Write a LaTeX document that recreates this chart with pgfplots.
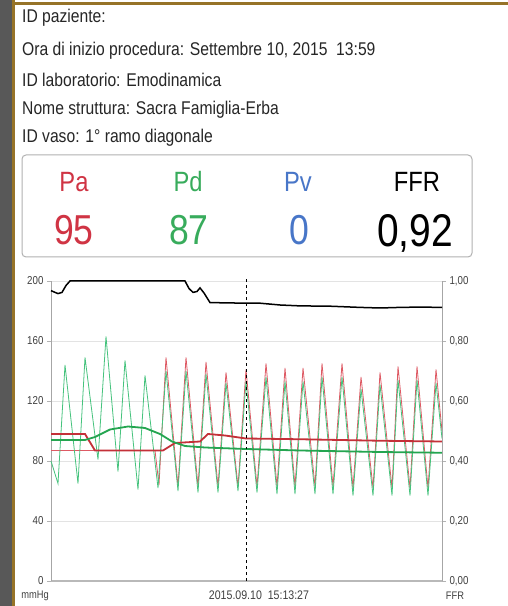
\documentclass[border=0pt]{standalone}
\usepackage{pgfplots}
\pgfplotsset{compat=1.18}
\usepackage{fontspec}
\setmainfont{Liberation Sans}
\newfontfamily\cf[FakeStretch=0.85]{Liberation Sans}
\definecolor{pa}{RGB}{208,52,68}
\definecolor{pd}{RGB}{56,172,92}
\definecolor{pv}{RGB}{72,118,200}
\definecolor{gold}{RGB}{150,115,40}
\definecolor{strip}{RGB}{88,88,88}
\definecolor{paw}{RGB}{222,90,100}
\definecolor{pdw}{RGB}{70,195,125}
\definecolor{pam}{RGB}{196,48,56}
\definecolor{pdm}{RGB}{36,165,80}
\begin{document}
\begin{tikzpicture}[x=1bp,y=1bp]
\fill[white] (0,0) rectangle (508,606);
\fill[strip] (0,0) rectangle (12,606);
\fill[gold] (12,0) rectangle (14.5,606);
\fill[gold] (12,601) rectangle (508,603.5);
% info lines
\begin{scope}[every node/.style={anchor=base west,inner sep=0pt,font=\cf\fontsize{18.5}{20}\selectfont,text=black!85}]
\node at (22,583) {ID paziente:};
\node at (22,550) {Ora di inizio procedura: Settembre 10, 2015\ \ 13:59};
\node at (22,519) {ID laboratorio: Emodinamica};
\node at (22,491) {Nome struttura: Sacra Famiglia-Erba};
\node at (22,463) {ID vaso: 1° ramo diagonale};
\end{scope}
% value box
\draw[gray!60,line width=1bp,rounded corners=4bp] (22,349) rectangle (472,451);
\begin{scope}[every node/.style={anchor=base,inner sep=0pt}]
\node[font=\cf\fontsize{28}{30}\selectfont,text=pa] at (74,414) {Pa};
\node[font=\cf\fontsize{28}{30}\selectfont,text=pd] at (188,414) {Pd};
\node[font=\cf\fontsize{28}{30}\selectfont,text=pv] at (298,414) {Pv};
\node[font=\cf\fontsize{28}{30}\selectfont,text=black] at (417,414) {FFR};
\node[font=\cf\fontsize{42}{44}\selectfont,text=pa] at (74,361) {95};
\node[font=\cf\fontsize{42}{44}\selectfont,text=pd] at (189,361) {87};
\node[font=\cf\fontsize{42}{44}\selectfont,text=pv] at (299,361) {0};
\node[font=\cf\fontsize{46}{48}\selectfont,text=black] at (415,359) {0,92};
\end{scope}
% pressure axis
\begin{axis}[at={(51bp,25bp)},anchor=south west,scale only axis,
  width=391bp,height=300bp,xmin=51,xmax=442,ymin=0,ymax=200,
  axis x line*=bottom,axis y line*=left,
  axis line style={gray!70,line width=0.8bp},
  x axis line style={gray!55,line width=1.6bp},
  xtick=\empty,ytick={0,40,...,200},
  ymajorgrids,grid style={gray!22,line width=0.8bp},
  tick align=outside,major tick length=4bp,tick style={gray!60,line width=0.8bp},
  /pgf/number format/assume math mode=true,
  yticklabel style={font=\cf\fontsize{11.5}{12}\selectfont,text=black!75},
  clip=false]
\addplot[paw,line width=0.8bp] coordinates {
(51,87)(155,87)(159,64)(166,149)(178,63)(186,149)(198,63)(206,146)(218,63)(226,139)
(238,63)(246,141)(257,63)(266,145)(277,63)(285,142)(295,63)(303,142)(315,63)(322,145)
(333,63)(342,145)(353,62)(361,136)(373,62)(380,139)(392,62)(398,143)(410,62)(417,143)
(428,62)(436,141)(442,100)};
\addplot[pdw,line width=0.8bp] coordinates {
(51,80)(58,65)(65,144)(78,65)(85,149)(98,81)(106,163)(118,73)(125,147)(138,61)(145,137)
(158,62)(166,140)(178,60)(186,140)(198,59)(206,138)(218,59)(226,132)(238,60)(246,133)
(257,59)(266,136)(277,58)(285,133)(295,58)(303,133)(315,58)(322,136)(333,58)(342,136)
(353,57)(361,128)(373,57)(380,131)(392,57)(398,134)(410,57)(417,134)(428,57)(436,132)(442,95)};
\addplot[pam,line width=1.8bp] coordinates {
(51,98)(85,98)(95,87)(163,87)(175,92)(200,93)(208,98)(225,97)(246,95)(300,94.5)(380,93.5)(442,93)};
\addplot[pdm,line width=1.8bp] coordinates {
(51,94)(85,94)(95,96)(110,101)(128,103)(145,102)(160,98)(172,93)(185,90)(205,89)(246,88)(300,87)(380,86)(442,85.5)};
\addplot[black,dashed,line width=1bp] coordinates {(246,0)(246,203)};
\end{axis}
% FFR axis
\begin{axis}[at={(51bp,25bp)},anchor=south west,scale only axis,
  width=391bp,height=300bp,xmin=51,xmax=442,ymin=0,ymax=1,
  axis x line=none,axis y line*=right,
  axis line style={gray!70,line width=0.8bp},
  ytick={0,0.2,0.4,0.6,0.8,1},
  yticklabels={{0,00},{0,20},{0,40},{0,60},{0,80},{1,00}},
  tick align=outside,major tick length=4bp,tick style={gray!60,line width=0.8bp},
  /pgf/number format/assume math mode=true,
  yticklabel style={font=\cf\fontsize{11.5}{12}\selectfont,text=black!75},
  clip=false]
\addplot[black,line width=1.5bp] coordinates {
(51,0.968)(55,0.962)(58,0.958)(62,0.962)(66,0.985)(70,1.0)(185,1.0)(189,0.975)(193,0.962)
(197,0.965)(200,0.977)(204,0.96)(210,0.928)(246,0.926)(260,0.926)(280,0.92)(300,0.917)
(330,0.916)(360,0.912)(380,0.91)(400,0.912)(420,0.913)(442,0.912)};
\end{axis}
\node[font=\cf\fontsize{11}{12}\selectfont,text=black!75] at (35,10) {mmHg};
\node[font=\cf\fontsize{11}{12}\selectfont,text=black!75] at (455,10) {FFR};
\node[font=\cf\fontsize{12.5}{13}\selectfont,text=black!75] at (259,11) {2015.09.10\ \ 15:13:27};
\end{tikzpicture}
\end{document}
